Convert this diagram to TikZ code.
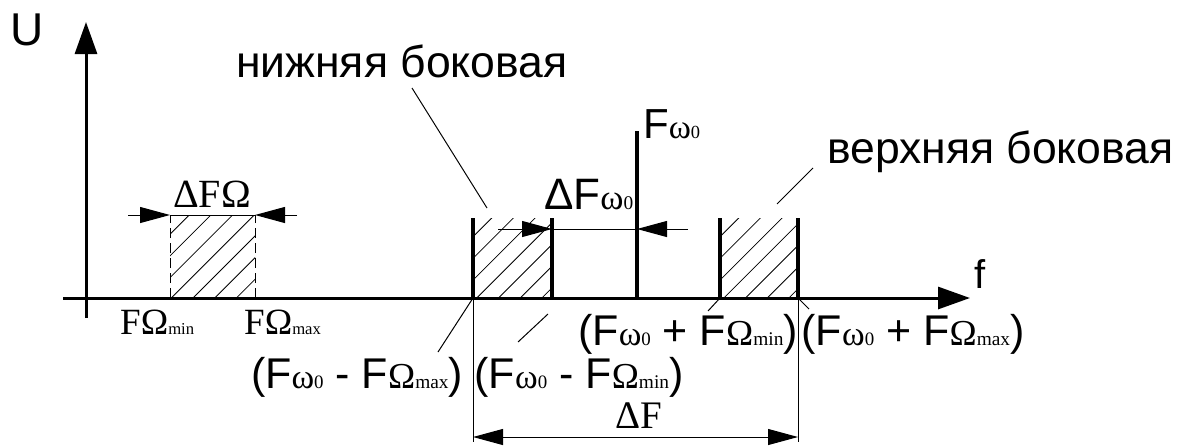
\documentclass[tikz,border=0pt]{standalone}
\usepackage{fontspec}
\usepackage{graphicx}
\setmainfont{Liberation Sans}
\newfontfamily\tms{Liberation Serif}
\usetikzlibrary{arrows.meta}
\newcommand\om{{\tms\scalebox{0.8}{ω}\scalebox{0.44}{0}}}
\newcommand\Omg[1]{{\tms\scalebox{0.85}{Ω}\scalebox{0.45}{#1}}}
\newcommand\fs[1]{\fontsize{#1}{#1}\selectfont}
\tikzset{
  axisline/.style={line width=3pt,-{Triangle[length=32pt,width=22pt]}},
  barline/.style={line width=3.5pt},
  thinline/.style={line width=1pt},
  hatchline/.style={line width=0.8pt},
  dimtip/.style={line width=1pt,-{Triangle[length=30pt,width=16pt]}},
  lbl/.style={inner sep=0pt,anchor=base west},
  clbl/.style={inner sep=0pt,anchor=base},
}
\begin{document}
\begin{tikzpicture}[x=1pt,y=-1pt]
\useasboundingbox (0,0) rectangle (1177,445);
% axes
\coordinate (o) at (86,298);
\coordinate (ybot) at (86,318);
\coordinate (ytop) at (86,22);
\coordinate (xl) at (63,298);
\coordinate (xr) at (970,298);
\draw[axisline] (ybot) -- (ytop);
\draw[axisline] (xl) -- (xr);
\node[lbl,font=\fs{46}] (U) at (10,45) {U};
\node[lbl,font=\fs{40}] (f) at (974,288) {f};
% left band
\coordinate (lb1) at (170,298); \coordinate (lt1) at (170,215);
\coordinate (lb2) at (255,298); \coordinate (lt2) at (255,215);
\begin{scope}
\clip (lt1) rectangle (lb2);
\foreach \a in {-110.8,-89.1,...,260} \draw[hatchline] (\a,298) -- (\a+83,215);
\end{scope}
\draw[thinline,dash pattern=on 10pt off 5pt] (lb1) -- (lt1);
\draw[thinline,dash pattern=on 10pt off 5pt] (lb2) -- (lt2);
\coordinate (d1a) at (128,215); \coordinate (d1b) at (297,215);
\draw[thinline] (lt1) -- (lt2);
\draw[dimtip] (d1a) -- (lt1);
\draw[dimtip] (d1b) -- (lt2);
\node[clbl,font=\fs{40}\tms] (dFO) at (212,207) {ΔFΩ};
\node[lbl,font=\fs{37}\tms] (FOmin) at (120,334) {FΩ\scalebox{0.45}{min}};
\node[lbl,font=\fs{37}\tms] (FOmax) at (244,334) {FΩ\scalebox{0.45}{max}};
% lower sideband
\coordinate (a1) at (473,298); \coordinate (a1t) at (473,218);
\coordinate (a2) at (552,298); \coordinate (a2t) at (552,218);
\coordinate (c0) at (637,298); \coordinate (c0t) at (637,131);
\coordinate (b1) at (720,298); \coordinate (b1t) at (720,218);
\coordinate (b2) at (798,298); \coordinate (b2t) at (798,218);
\begin{scope}
\clip (a1t) rectangle (a2);
\foreach \a in {390,411.7,...,560} \draw[hatchline] (\a,298) -- (\a+83,215);
\end{scope}
\begin{scope}
\clip (b1t) rectangle (b2);
\foreach \a in {637,658.7,...,810} \draw[hatchline] (\a,298) -- (\a+83,215);
\end{scope}
\draw[barline] (a1) -- (a1t);
\draw[barline] (a2) -- (a2t);
\draw[barline] (c0) -- (c0t);
\draw[barline] (b1) -- (b1t);
\draw[barline] (b2) -- (b2t);
\node[lbl,font=\fs{42}] (Fw) at (643,138) {F\om};
% delta F omega0
\coordinate (d2a) at (498,229); \coordinate (d2b) at (688,229);
\coordinate (d2l) at (552,229); \coordinate (d2r) at (637,229);
\draw[thinline] (d2l) -- (d2r);
\draw[dimtip] (d2a) -- (d2l);
\draw[dimtip] (d2b) -- (d2r);
\node[lbl,font=\fs{44}] (dFw) at (544,209) {ΔF\om};
% captions
\node[lbl,font=\fs{44.5}] (low) at (236,77) {нижняя боковая};
\node[lbl,font=\fs{44.5}] (up) at (827,163) {верхняя боковая};
\coordinate (lowl1) at (412,88); \coordinate (lowl2) at (487,208);
\draw[thinline] (lowl1) -- (lowl2);
\coordinate (upl1) at (813,168); \coordinate (upl2) at (777,204);
\draw[thinline] (upl1) -- (upl2);
% bottom labels
\node[clbl,font=\fs{43}] (m1) at (357,388) {(F\om{} - F\Omg{max})};
\node[clbl,font=\fs{43}] (m2) at (579,388) {(F\om{} - F\Omg{min})};
\node[clbl,font=\fs{43}] (p1) at (688,345) {(F\om{} + F\Omg{min})};
\node[clbl,font=\fs{43}] (p2) at (913,345) {(F\om{} + F\Omg{max})};
\coordinate (m1e) at (438,352);
\coordinate (m2s) at (548,314); \coordinate (m2e) at (518,342);
\coordinate (p1e) at (708,311);
\coordinate (p2e) at (809,309);
\draw[thinline] (a1) -- (m1e);
\draw[thinline] (m2s) -- (m2e);
\draw[thinline] (b1) -- (p1e);
\draw[thinline] (b2) -- (p2e);
% delta F
\coordinate (e1) at (473,442); \coordinate (e2) at (798,442);
\coordinate (e1m) at (473,437); \coordinate (e2m) at (798,437);
\coordinate (emid) at (636,437);
\draw[thinline] (a1) -- (e1);
\draw[thinline] (b2) -- (e2);
\draw[dimtip] (emid) -- (e1m);
\draw[dimtip] (emid) -- (e2m);
\node[clbl,font=\fs{39}\tms] (dF) at (639,428) {ΔF};
\end{tikzpicture}
\end{document}
